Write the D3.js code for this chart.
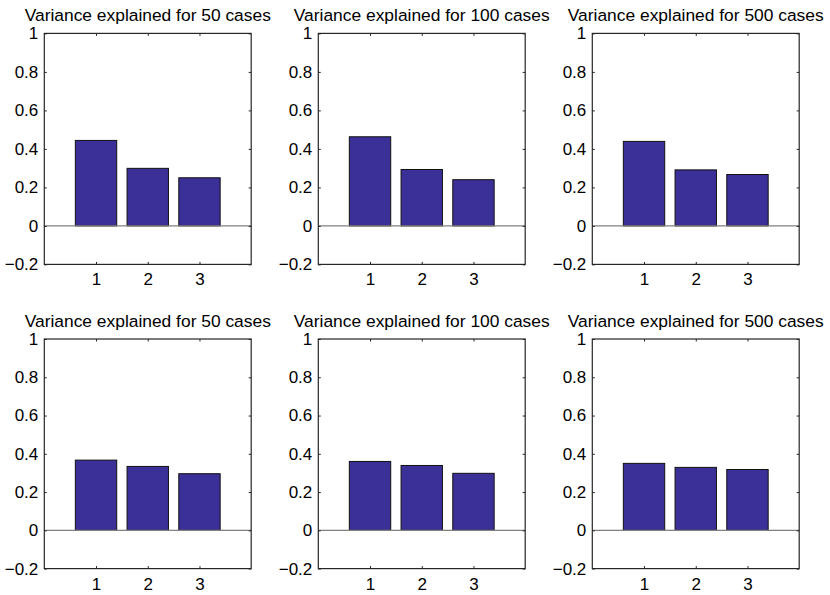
<!DOCTYPE html>
<html>
<head>
<meta charset="utf-8">
<script src="https://cdn.jsdelivr.net/npm/d3@7"></script>
<style>
  body { margin: 0; background: #fff; }
  svg { display: block; font-family: "Liberation Sans", Arial, sans-serif; }
</style>
</head>
<body>
<svg id="chart" width="830" height="595"></svg>
<script>
// data
const components = [1, 2, 3];
const titles = [
  "Variance explained for 50 cases",
  "Variance explained for 100 cases",
  "Variance explained for 500 cases",
  "Variance explained for 50 cases",
  "Variance explained for 100 cases",
  "Variance explained for 500 cases"
];
const top50 = [0.444, 0.299, 0.25];
const top100 = [0.463, 0.293, 0.24];
const top500 = [0.439, 0.291, 0.267];
const bottom50 = [0.367, 0.334, 0.296];
const bottom100 = [0.36, 0.339, 0.298];
const bottom500 = [0.35, 0.329, 0.318];
const panelValues = [top50, top100, top500, bottom50, bottom100, bottom500];
const yTicks = [-0.2, 0, 0.2, 0.4, 0.6, 0.8, 1];

const svg = d3.select("#chart");

const colLeft = [44.3, 318.3, 592.3];
const panelW = 206.9;
const rowTop = [33.4, 339];
const panelH = [231, 229.6];

const barColor = "#3b3097";
const axisColor = "#262626";

const fmt = d => d === 0 ? "0" : d === 1 ? "1" : (d < 0 ? "\u2212" : "") + Math.abs(d).toFixed(1);

panelValues.forEach((vals, i) => {
  const col = i % 3, row = Math.floor(i / 3);
  const x0 = colLeft[col], y0 = rowTop[row];
  const w = panelW, h = panelH[row];

  const x = d3.scaleLinear().domain([0, 4]).range([0, w]);
  const y = d3.scaleLinear().domain([-0.2, 1]).range([h, 0]);

  const g = svg.append("g").attr("transform", `translate(${x0},${y0})`);

  // bars
  const bw = x(0.8) - x(0);
  g.selectAll(".bar")
    .data(vals)
    .join("rect")
    .attr("class", "bar")
    .attr("x", (d, j) => x(components[j]) - bw / 2)
    .attr("y", d => y(d))
    .attr("width", bw)
    .attr("height", d => y(0) - y(d))
    .attr("fill", barColor)
    .attr("stroke", "#111")
    .attr("stroke-width", 1);

  // zero baseline
  g.append("line")
    .attr("x1", 0).attr("x2", w)
    .attr("y1", y(0)).attr("y2", y(0))
    .attr("stroke", "#808080")
    .attr("stroke-width", 1.2);

  // axes with inward ticks (MATLAB style)
  const tl = 2.5;
  const left = g.append("g").call(d3.axisLeft(y).tickValues(yTicks).tickFormat(fmt).tickSizeInner(-tl).tickSizeOuter(0).tickPadding(6));
  const right = g.append("g").attr("transform", `translate(${w},0)`)
    .call(d3.axisRight(y).tickValues(yTicks).tickFormat("").tickSizeInner(-tl).tickSizeOuter(0));
  const bottom = g.append("g").attr("transform", `translate(0,${h})`)
    .call(d3.axisBottom(x).tickValues(components).tickFormat(d3.format("d")).tickSizeInner(-tl).tickSizeOuter(0).tickPadding(9));
  const topAx = g.append("g")
    .call(d3.axisTop(x).tickValues(components).tickFormat("").tickSizeInner(-tl).tickSizeOuter(0));

  [left, right, bottom, topAx].forEach(a => {
    a.select(".domain").remove();
    a.selectAll("line").attr("stroke", axisColor);
    a.selectAll("text").attr("fill", "#000").style("font-size", "17px");
  });

  // box
  g.append("rect")
    .attr("width", w).attr("height", h)
    .attr("fill", "none")
    .attr("stroke", axisColor)
    .attr("stroke-width", 1.2);

  g.append("text")
    .attr("x", w / 2)
    .attr("y", -12)
    .attr("text-anchor", "middle")
    .style("font-size", "17.4px")
    .text(titles[i]);
});
</script>
</body>
</html>
